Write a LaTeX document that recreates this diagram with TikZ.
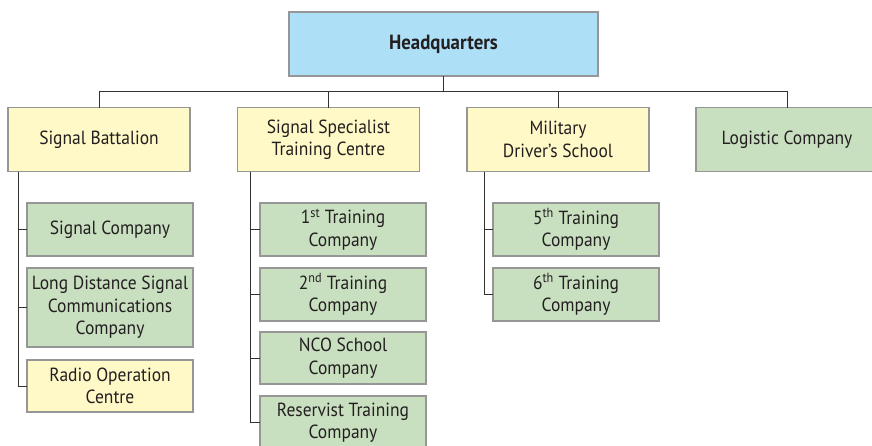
\documentclass[tikz,border=0pt]{standalone}
\usepackage{fontspec}
\setmainfont{PT Sans}[FakeStretch=0.92]
\usetikzlibrary{positioning}

\definecolor{hqblue}{RGB}{173,223,247}
\definecolor{unityellow}{RGB}{255,249,199}
\definecolor{unitgreen}{RGB}{200,223,192}
\definecolor{boxedge}{RGB}{150,150,150}
\definecolor{wire}{RGB}{50,50,50}
\definecolor{ink}{RGB}{35,31,32}

\begin{document}
\begin{tikzpicture}[x=1pt,y=-1pt,
	unit/.style={draw=boxedge,line width=1.1pt,inner sep=0,outer sep=0,align=center,text=ink,
		font=\fontsize{19}{22.5}\selectfont},
	top/.style={unit,fill=hqblue,minimum width=309pt,minimum height=64pt,
		font=\fontsize{20.5}{22}\selectfont\bfseries},
	parent/.style={unit,minimum width=182pt,minimum height=64pt},
	child/.style={unit,fill=unitgreen,minimum width=166pt,minimum height=53pt},
	wire/.style={draw=wire,line width=0.8pt}]
	\useasboundingbox (0,0) rectangle (872,445);
	\node[top] (hq) at (443.5,44) {Headquarters};
	\node[parent,fill=unityellow] (bat) at (99,139.5) {Signal Battalion};
	\node[parent,fill=unityellow] (spec) at (328.5,139.5) {Signal Specialist\\Training Centre};
	\node[parent,fill=unityellow] (drv) at (558,139.5) {Military\\Driver's School};
	\node[parent,fill=unitgreen] (log) at (787,139.5) {Logistic Company};
	% signal battalion
	\node[child] (sigco) at (110,229.5) {Signal Company};
	\node[child,minimum height=79pt] (ldsc) at (110,307.5) {Long Distance Signal\\Communications\\Company};
	\node[child,fill=unityellow,minimum height=52pt] (radio) at (110,386) {Radio Operation\\Centre};
	% training centre
	\node[child] (tr1) at (343,229.5) {1\textsuperscript{st} Training\\Company};
	\node[child] (tr2) at (343,294.5) {2\textsuperscript{nd} Training\\Company};
	\node[child,minimum height=52pt] (nco) at (343,358) {NCO School\\Company};
	\node[child] (res) at (343,422.5) {Reservist Training\\Company};
	% driver's school
	\node[child] (tr5) at (576,229.5) {5\textsuperscript{th} Training\\Company};
	\node[child] (tr6) at (576,294.5) {6\textsuperscript{th} Training\\Company};
	% connectors
	\foreach \n in {bat,spec,drv,log}
		\draw[wire] (hq.south) -- ++(0,15) -| (\n.north);
	\foreach \n in {sigco,ldsc,radio}
		\draw[wire] ([xshift=10pt]bat.south west) |- (\n.west);
	\foreach \n in {tr1,tr2,nco,res}
		\draw[wire] ([xshift=13pt]spec.south west) |- (\n.west);
	\foreach \n in {tr5,tr6}
		\draw[wire] ([xshift=17pt]drv.south west) |- (\n.west);
\end{tikzpicture}
\end{document}
